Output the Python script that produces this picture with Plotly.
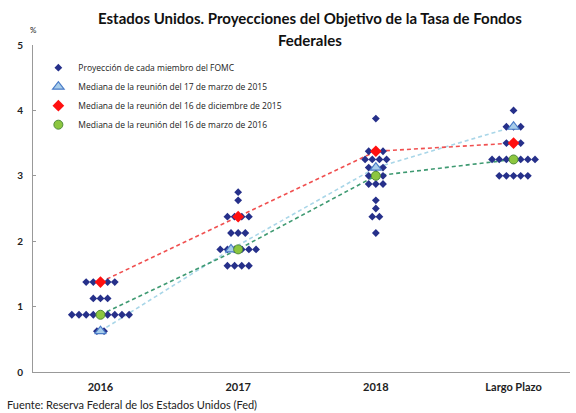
import numpy as np
import plotly.graph_objects as go

categories = ["2016", "2017", "2018", "Largo Plazo"]

# FOMC member projections: rate level -> number of dots, per category
dots_2016_rates = [1.375, 1.125, 0.875, 0.625]
dots_2016_counts = [5, 3, 9, 2]
dots_2017_rates = [2.75, 2.625, 2.375, 2.125, 1.875, 1.625]
dots_2017_counts = [1, 1, 4, 3, 6, 4]
dots_2018_rates = [3.875, 3.375, 3.25, 3.125, 3.0, 2.875, 2.625, 2.5, 2.375, 2.125]
dots_2018_counts = [1, 3, 4, 3, 3, 3, 1, 1, 2, 1]
dots_lr_rates = [4.0, 3.75, 3.5, 3.25, 3.0]
dots_lr_counts = [1, 3, 3, 7, 5]

median_mar2015 = [0.625, 1.875, 3.125, 3.75]
median_dec2015 = [1.375, 2.375, 3.375, 3.5]
median_mar2016 = [0.875, 1.875, 3.0, 3.25]

y_ticks = [0, 1, 2, 3, 4, 5]

SLOT = 0.052
FONT = "Lato"

groups = [
    (dots_2016_rates, dots_2016_counts),
    (dots_2017_rates, dots_2017_counts),
    (dots_2018_rates, dots_2018_counts),
    (dots_lr_rates, dots_lr_counts),
]
dx, dy = [], []
for ci, (rates, counts) in enumerate(groups):
    for r, n in zip(rates, counts):
        offs = np.arange(n) - (n - 1) / 2
        for o in offs:
            dx.append(ci + o * SLOT)
            dy.append(r)

cat_x = list(range(len(categories)))
# shift a median marker one slot left when it coincides with the latest median
tri_x = [c - SLOT if a == b else c for c, a, b in zip(cat_x, median_mar2015, median_mar2016)]

fig = go.Figure()
dash = "4px,3px"
fig.add_trace(go.Scatter(x=tri_x, y=median_mar2015, mode="lines", showlegend=False,
                         line=dict(color="#a9d6e8", width=1.6, dash=dash), hoverinfo="skip"))
fig.add_trace(go.Scatter(x=cat_x, y=median_dec2015, mode="lines", showlegend=False,
                         line=dict(color="#f05050", width=1.6, dash=dash), hoverinfo="skip"))
fig.add_trace(go.Scatter(x=cat_x, y=median_mar2016, mode="lines", showlegend=False,
                         line=dict(color="#3f9a72", width=1.6, dash=dash), hoverinfo="skip"))

fig.add_trace(go.Scatter(x=dx, y=dy, mode="markers", name="Proyección de cada miembro del FOMC",
                         marker=dict(symbol="diamond", size=6, color="#26308a")))
fig.add_trace(go.Scatter(x=tri_x, y=median_mar2015, mode="markers",
                         name="Mediana de la reunión del 17 de marzo de 2015",
                         marker=dict(symbol="triangle-up", size=10, color="#a8cdea",
                                     line=dict(color="#4a7cc8", width=1.2))))
fig.add_trace(go.Scatter(x=cat_x, y=median_dec2015, mode="markers",
                         name="Mediana de la reunión del 16 de diciembre de 2015",
                         marker=dict(symbol="diamond", size=9, color="#ff1010")))
fig.add_trace(go.Scatter(x=cat_x, y=median_mar2016, mode="markers",
                         name="Mediana de la reunión del 16 de marzo de 2016",
                         marker=dict(symbol="circle", size=9, color="#8cc63f",
                                     line=dict(color="#4f8a3a", width=1))))

title_font = dict(family=FONT, size=15, color="#111")
fig.update_layout(
    width=576, height=413,
    margin=dict(l=33, r=6, t=45, b=41),
    paper_bgcolor="white", plot_bgcolor="white",
    font=dict(family=FONT, color="#222"),
    legend=dict(x=0.01, y=0.975, xanchor="left", yanchor="top", bgcolor="rgba(0,0,0,0)",
                font=dict(family="Open Sans", size=8.5, color="#222"), tracegroupgap=0),
    xaxis=dict(range=[-0.49, 3.41], tickvals=cat_x, ticktext=[f"<b>{c}</b>" for c in categories],
               showline=True, linecolor="#999", linewidth=1, showgrid=False, zeroline=False,
               ticks="", ticklabelstandoff=5, tickfont=dict(family=FONT, size=11, color="#222")),
    yaxis=dict(range=[0, 5], tickvals=y_ticks, ticktext=[f"<b>{v}</b>" for v in y_ticks],
               showline=True, linecolor="#999", linewidth=1, showgrid=False, zeroline=False,
               ticks="inside", ticklen=3, tickcolor="#999", ticklabelstandoff=7,
               tickfont=dict(family=FONT, size=10, color="#222")),
    annotations=[
        dict(text="<b>Estados Unidos. Proyecciones del Objetivo de la Tasa de Fondos</b>",
             xref="paper", yref="paper", x=0.515, y=1.083, xanchor="center", yanchor="middle",
             showarrow=False, font=title_font),
        dict(text="<b>Federales</b>",
             xref="paper", yref="paper", x=0.515, y=1.016, xanchor="center", yanchor="middle",
             showarrow=False, font=title_font),
        dict(text="%", xref="paper", yref="paper", x=0.0, y=1.046, xanchor="center",
             yanchor="middle", showarrow=False, font=dict(family=FONT, size=8, color="#222")),
        dict(text="Fuente: Reserva Federal de los Estados Unidos (Fed)", xref="paper", yref="paper",
             x=-0.052, y=-0.1, xanchor="left", yanchor="middle", showarrow=False,
             font=dict(family=FONT, size=11, color="#222")),
    ],
)

fig.write_html("out.html", post_script="document.body.style.margin='0';",
               config={"displayModeBar": False})
